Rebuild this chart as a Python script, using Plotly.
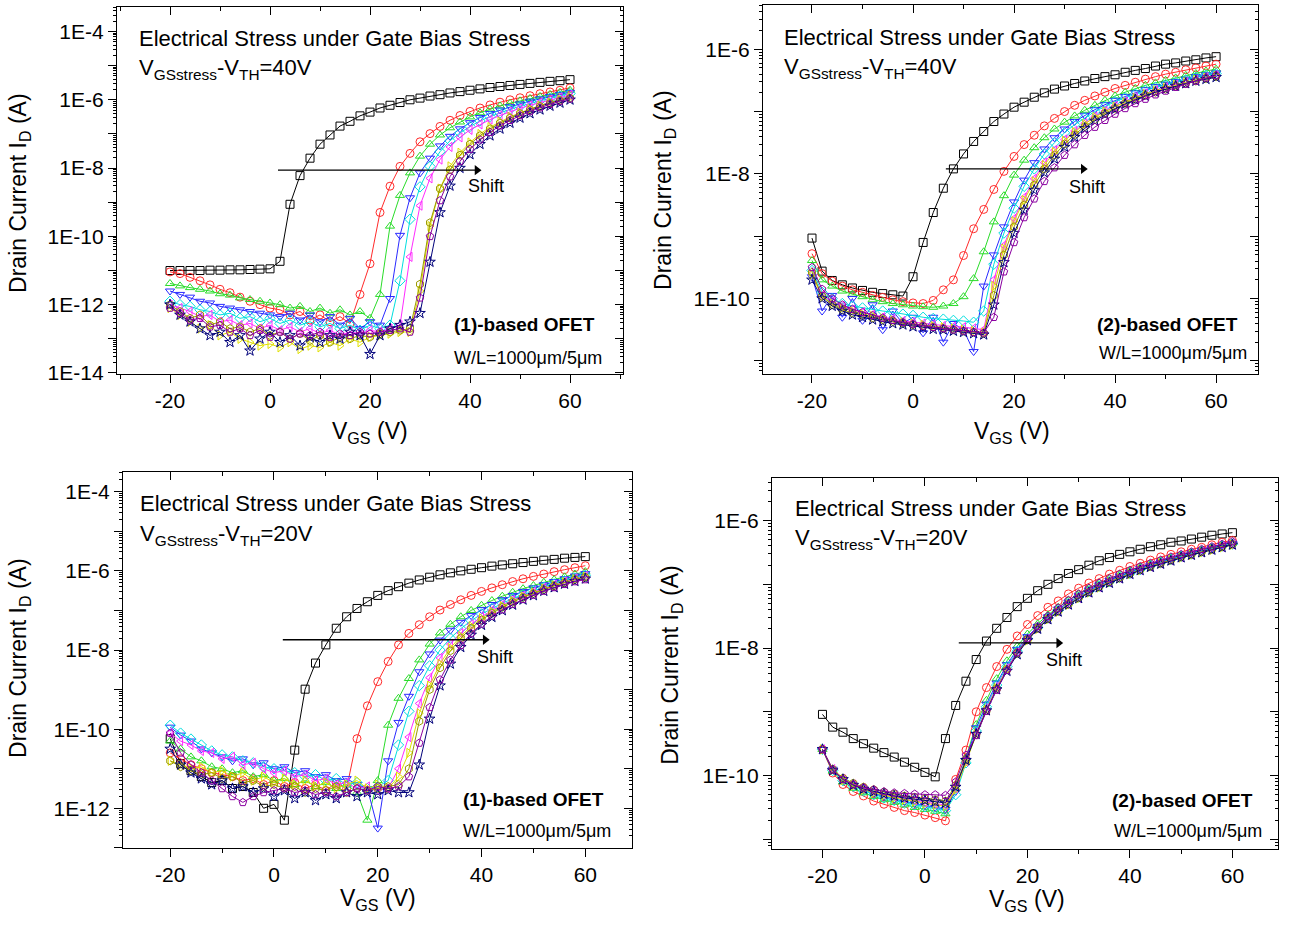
import plotly.graph_objects as go

# ---------------- data (log10 of drain current, A) ----------------
VGS = [-20, -18, -16, -14, -12, -10, -8, -6, -4, -2, 0,
       2, 4, 6, 8, 10, 12, 14, 16, 18, 20,
       22, 24, 26, 28, 30, 32, 34, 36, 38, 40,
       42, 44, 46, 48, 50, 52, 54, 56, 58, 60]

# Panel A : (1)-based OFET, VGSstress-VTH = 40 V
A_black = [-11.0, -11.0, -11.0, -11.0, -10.99, -10.99, -10.98, -10.98, -10.97, -10.96, -10.95,
           -10.73, -9.06, -8.22, -7.71, -7.30, -7.03, -6.77, -6.63, -6.47, -6.36,
           -6.24, -6.16, -6.08, -6.00, -5.95, -5.89, -5.85, -5.80, -5.76, -5.72,
           -5.68, -5.64, -5.61, -5.58, -5.55, -5.52, -5.49, -5.46, -5.44, -5.41]
A_red = [-11.04, -11.09, -11.2, -11.3, -11.42, -11.55, -11.65, -11.78, -11.9, -12.0, -12.1,
         -12.15, -12.3, -12.2, -12.45, -12.3, -12.5, -12.35, -12.55, -11.7, -10.8,
         -9.3, -8.53, -7.95, -7.57, -7.23, -6.99, -6.78, -6.6, -6.46, -6.34,
         -6.24, -6.15, -6.07, -6.0, -5.94, -5.88, -5.82, -5.77, -5.72, -5.65]
A_green = [-11.38, -11.45, -11.5, -11.55, -11.6, -11.68, -11.72, -11.8, -11.85, -11.9, -11.95,
           -12.0, -12.1, -12.05, -12.2, -12.1, -12.25, -12.15, -12.3, -12.2, -12.4,
           -11.7, -9.7, -8.8, -8.14, -7.65, -7.3, -7.03, -6.82, -6.65, -6.5,
           -6.38, -6.27, -6.18, -6.1, -6.03, -5.96, -5.9, -5.84, -5.78, -5.72]
A_blue = [-11.6, -11.7, -11.78, -11.9, -11.95, -12.05, -12.1, -12.15, -12.2, -12.25, -12.3,
          -12.35, -12.25, -12.45, -12.3, -12.5, -12.35, -12.6, -12.4, -12.7, -12.5,
          -12.6, -11.82, -9.97, -8.87, -8.14, -7.71, -7.35, -7.07, -6.85, -6.67,
          -6.52, -6.4, -6.3, -6.2, -6.12, -6.04, -5.97, -5.9, -5.84, -5.78]
A_cyan = [-11.9, -12.0, -12.05, -12.15, -12.2, -12.3, -12.25, -12.4, -12.35, -12.5, -12.4,
          -12.55, -12.45, -12.6, -12.5, -12.65, -12.55, -12.7, -12.6, -12.75, -12.6,
          -12.7, -12.6, -11.3, -9.5, -8.55, -7.95, -7.52, -7.2, -6.97, -6.78,
          -6.62, -6.49, -6.38, -6.28, -6.19, -6.1, -6.03, -5.96, -5.89, -5.82]
A_magenta = [-12.0, -12.1, -12.2, -12.35, -12.3, -12.5, -12.45, -12.6, -12.55, -12.7, -12.6,
             -12.75, -12.65, -12.8, -12.7, -12.85, -12.75, -12.9, -12.8, -12.85, -12.75,
             -12.8, -12.7, -12.6, -10.6, -9.1, -8.3, -7.75, -7.38, -7.1, -6.88,
             -6.72, -6.58, -6.46, -6.35, -6.25, -6.16, -6.08, -6.0, -5.93, -5.86]
A_yellow = [-12.1, -12.3, -12.5, -12.7, -12.6, -12.9, -12.8, -13.0, -13.1, -13.2, -13.15,
            -13.25, -13.1, -13.3, -13.2, -13.25, -13.1, -13.2, -13.0, -13.1, -12.95,
            -12.9, -12.85, -12.8, -12.8, -11.6, -9.7, -8.6, -7.95, -7.55, -7.25,
            -7.0, -6.8, -6.64, -6.5, -6.38, -6.27, -6.17, -6.08, -6.0, -5.92]
A_olive = [-12.0, -12.2, -12.4, -12.3, -12.6, -12.5, -12.7, -12.65, -12.8, -12.7, -12.9,
           -12.8, -13.0, -12.85, -13.05, -12.9, -13.1, -12.95, -13.0, -12.9, -12.95,
           -12.85, -12.8, -12.75, -12.7, -11.4, -9.6, -8.6, -8.05, -7.62, -7.3,
           -7.05, -6.85, -6.68, -6.53, -6.4, -6.29, -6.19, -6.1, -6.02, -5.95]
A_navy = [-12.0, -12.3, -12.5, -12.7, -12.9, -12.8, -13.1, -12.9, -13.35, -13.0, -12.8,
          -13.1, -12.9, -13.2, -12.95, -13.1, -12.9, -13.0, -12.8, -12.9, -13.45,
          -12.9, -12.7, -12.6, -12.5, -12.25, -10.75, -9.3, -8.52, -8.0, -7.6,
          -7.3, -7.05, -6.85, -6.68, -6.53, -6.4, -6.29, -6.18, -6.09, -6.0]
A_purple = [-12.1, -12.25, -12.45, -12.4, -12.65, -12.6, -12.8, -12.7, -12.9, -12.75, -12.95,
            -12.8, -13.0, -12.85, -12.9, -12.8, -12.95, -12.85, -12.9, -12.8, -12.85,
            -12.8, -12.75, -12.7, -12.8, -11.8, -10.0, -8.95, -8.25, -7.8, -7.45,
            -7.17, -6.95, -6.76, -6.6, -6.46, -6.34, -6.23, -6.13, -6.04, -5.97]

# Panel B : (2)-based OFET, VGSstress-VTH = 40 V
B_black = [-9.03, -9.56, -9.71, -9.78, -9.83, -9.87, -9.9, -9.92, -9.94, -9.96, -9.65,
           -9.1, -8.62, -8.23, -7.92, -7.68, -7.48, -7.32, -7.16, -7.04, -6.93,
           -6.85, -6.77, -6.7, -6.64, -6.59, -6.55, -6.51, -6.47, -6.44, -6.41,
           -6.37, -6.34, -6.31, -6.27, -6.24, -6.22, -6.19, -6.17, -6.14, -6.12]
B_red = [-9.28, -9.6, -9.72, -9.8, -9.86, -9.9, -9.95, -9.98, -10.02, -10.05, -10.07,
         -10.08, -10.03, -9.86, -9.7, -9.31, -8.88, -8.57, -8.25, -7.96, -7.72,
         -7.53, -7.38, -7.23, -7.11, -7.0, -6.9, -6.82, -6.75, -6.69, -6.63,
         -6.58, -6.53, -6.48, -6.44, -6.4, -6.37, -6.33, -6.3, -6.27, -6.24]
B_green = [-9.39, -9.7, -9.8, -9.88, -9.93, -9.97, -10.02, -10.05, -10.08, -10.1, -10.12,
           -10.13, -10.14, -10.12, -10.08, -9.97, -9.68, -9.25, -8.77, -8.35, -8.02,
           -7.78, -7.58, -7.42, -7.28, -7.17, -7.07, -6.98, -6.9, -6.82, -6.75,
           -6.69, -6.63, -6.58, -6.54, -6.5, -6.46, -6.42, -6.39, -6.35, -6.32]
B_blue = [-9.65, -10.2, -9.95, -10.3, -10.0, -10.35, -10.1, -10.5, -10.2, -10.4, -10.3,
          -10.55, -10.3, -10.7, -10.4, -10.5, -10.85, -9.8, -9.3, -8.85, -8.45,
          -8.1, -7.82, -7.6, -7.42, -7.28, -7.16, -7.06, -6.97, -6.89, -6.82,
          -6.76, -6.7, -6.65, -6.6, -6.56, -6.52, -6.48, -6.44, -6.41, -6.38]
B_cyan = [-9.55, -9.9, -10.0, -10.08, -10.12, -10.15, -10.18, -10.2, -10.22, -10.25, -10.27,
          -10.3, -10.32, -10.33, -10.35, -10.36, -10.38, -10.2, -9.45, -8.95, -8.55,
          -8.2, -7.92, -7.68, -7.5, -7.34, -7.21, -7.1, -7.0, -6.92, -6.84,
          -6.78, -6.72, -6.66, -6.61, -6.57, -6.53, -6.49, -6.45, -6.42, -6.39]
B_magenta = [-9.6, -9.95, -10.05, -10.12, -10.18, -10.22, -10.26, -10.3, -10.33, -10.36, -10.38,
             -10.4, -10.42, -10.44, -10.45, -10.46, -10.48, -10.5, -9.7, -9.15, -8.72,
             -8.38, -8.08, -7.82, -7.62, -7.45, -7.31, -7.19, -7.08, -6.99, -6.91,
             -6.84, -6.77, -6.71, -6.66, -6.61, -6.57, -6.53, -6.49, -6.45, -6.42]
B_yellow = [-9.62, -9.98, -10.08, -10.15, -10.2, -10.25, -10.28, -10.32, -10.35, -10.38, -10.4,
            -10.42, -10.44, -10.46, -10.48, -10.5, -10.52, -10.55, -9.8, -9.2, -8.76,
            -8.42, -8.12, -7.86, -7.65, -7.47, -7.33, -7.2, -7.09, -7.0, -6.92,
            -6.85, -6.78, -6.72, -6.67, -6.62, -6.57, -6.53, -6.49, -6.46, -6.43]
B_olive = [-9.58, -9.96, -10.1, -10.18, -10.23, -10.27, -10.31, -10.34, -10.37, -10.4, -10.42,
           -10.44, -10.46, -10.48, -10.5, -10.52, -10.54, -10.56, -9.95, -9.3, -8.85,
           -8.5, -8.18, -7.92, -7.7, -7.52, -7.37, -7.24, -7.13, -7.03, -6.95,
           -6.87, -6.8, -6.74, -6.69, -6.64, -6.59, -6.55, -6.51, -6.47, -6.44]
B_navy = [-9.7, -10.0, -10.12, -10.2, -10.26, -10.3, -10.34, -10.37, -10.4, -10.42, -10.45,
          -10.47, -10.49, -10.5, -10.52, -10.54, -10.56, -10.58, -10.1, -9.42, -8.95,
          -8.58, -8.26, -7.98, -7.76, -7.57, -7.41, -7.27, -7.15, -7.05, -6.96,
          -6.88, -6.81, -6.75, -6.69, -6.64, -6.59, -6.55, -6.51, -6.48, -6.45]
B_purple = [-9.5, -9.85, -10.0, -10.1, -10.17, -10.22, -10.27, -10.31, -10.35, -10.38, -10.41,
            -10.44, -10.46, -10.48, -10.5, -10.52, -10.54, -10.55, -10.3, -9.57, -9.1,
            -8.7, -8.4, -8.12, -7.9, -7.7, -7.53, -7.38, -7.25, -7.14, -7.04,
            -6.95, -6.87, -6.8, -6.73, -6.67, -6.61, -6.56, -6.51, -6.46, -6.42]

# Panel C : (1)-based OFET, VGSstress-VTH = 20 V
C_black = [-10.24, -10.87, -11.05, -11.2, -11.35, -11.3, -11.5, -11.45, -11.6, -12.0, -11.9,
           -12.3, -10.53, -8.99, -8.33, -7.87, -7.45, -7.16, -6.95, -6.78, -6.62,
           -6.5, -6.4, -6.31, -6.23, -6.16, -6.1, -6.05, -6.0, -5.96, -5.92,
           -5.88, -5.85, -5.82, -5.79, -5.76, -5.73, -5.71, -5.68, -5.66, -5.64]
C_red = [-10.6, -10.75, -10.9, -11.0, -11.1, -11.15, -11.2, -11.3, -11.25, -11.4, -11.3,
         -11.45, -11.35, -11.5, -11.4, -11.55, -11.35, -11.5, -10.24, -9.41, -8.8,
         -8.29, -7.87, -7.58, -7.36, -7.16, -6.99, -6.85, -6.73, -6.62, -6.52,
         -6.43, -6.35, -6.27, -6.2, -6.14, -6.08, -6.02, -5.97, -5.92, -5.87]
C_green = [-10.3, -10.5, -10.7, -10.8, -10.95, -11.0, -11.1, -11.05, -11.2, -11.15, -11.3,
           -11.25, -11.4, -11.3, -11.45, -11.35, -11.5, -11.4, -11.6, -12.3, -11.3,
           -9.9, -9.22, -8.72, -8.25, -7.85, -7.57, -7.35, -7.16, -7.0, -6.87,
           -6.75, -6.64, -6.54, -6.45, -6.37, -6.29, -6.22, -6.15, -6.08, -6.02]
C_blue = [-9.95, -10.15, -10.3, -10.5, -10.6, -10.7, -10.8, -10.75, -10.9, -10.85, -11.0,
          -10.95, -11.1, -11.05, -11.2, -11.15, -11.3, -11.25, -11.4, -11.5, -12.5,
          -10.8, -9.83, -9.17, -8.55, -8.1, -7.75, -7.5, -7.3, -7.13, -6.98,
          -6.85, -6.73, -6.62, -6.52, -6.43, -6.35, -6.27, -6.2, -6.13, -6.07]
C_cyan = [-9.9, -10.1, -10.25, -10.4, -10.55, -10.65, -10.7, -10.8, -10.85, -10.95, -11.0,
          -11.05, -11.1, -11.2, -11.15, -11.3, -11.25, -11.4, -11.35, -11.5, -11.45,
          -11.3, -10.4, -9.55, -8.9, -8.4, -8.0, -7.7, -7.46, -7.26, -7.09,
          -6.95, -6.82, -6.7, -6.6, -6.5, -6.41, -6.33, -6.25, -6.18, -6.11]
C_magenta = [-10.1, -10.3, -10.4, -10.55, -10.6, -10.75, -10.7, -10.9, -10.85, -11.0, -11.1,
             -11.05, -11.2, -11.15, -11.3, -11.25, -11.4, -11.35, -11.5, -11.45, -11.55,
             -11.5, -11.0, -10.2, -9.35, -8.7, -8.2, -7.85, -7.57, -7.35, -7.16,
             -7.0, -6.86, -6.74, -6.63, -6.53, -6.43, -6.35, -6.27, -6.19, -6.13]
C_yellow = [-10.8, -10.9, -11.0, -10.95, -11.1, -11.05, -11.2, -11.1, -11.3, -11.2, -11.35,
            -11.25, -11.4, -11.3, -11.45, -11.35, -11.5, -11.4, -11.3, -11.5, -11.4,
            -11.5, -11.2, -10.6, -9.6, -8.9, -8.35, -7.95, -7.65, -7.4, -7.2,
            -7.03, -6.89, -6.76, -6.65, -6.55, -6.45, -6.37, -6.29, -6.21, -6.15]
C_olive = [-10.8, -10.95, -11.05, -11.15, -11.1, -11.25, -11.2, -11.35, -11.3, -11.45, -11.4,
           -11.5, -11.45, -11.6, -11.5, -11.55, -11.45, -11.6, -11.5, -11.55, -11.5,
           -11.45, -11.4, -11.0, -9.8, -9.0, -8.45, -8.02, -7.7, -7.45, -7.24,
           -7.07, -6.92, -6.79, -6.67, -6.57, -6.47, -6.38, -6.3, -6.22, -6.16]
C_navy = [-10.5, -10.9, -11.1, -11.25, -11.4, -11.3, -11.5, -11.45, -11.6, -11.5, -11.7,
          -11.55, -11.75, -11.6, -11.8, -11.65, -11.75, -11.6, -11.7, -11.6, -11.65,
          -11.55, -11.6, -11.6, -10.9, -9.74, -8.9, -8.35, -7.93, -7.62, -7.37,
          -7.17, -7.0, -6.86, -6.73, -6.62, -6.51, -6.42, -6.33, -6.26, -6.2]
C_purple = [-10.1, -10.6, -10.9, -11.1, -11.3, -11.5, -11.7, -11.85, -11.7, -11.6, -11.55,
            -11.5, -11.6, -11.55, -11.65, -11.6, -11.7, -11.6, -11.5, -11.55, -11.45,
            -11.5, -11.45, -11.2, -10.35, -9.45, -8.75, -8.25, -7.88, -7.58, -7.34,
            -7.14, -6.98, -6.84, -6.72, -6.61, -6.51, -6.42, -6.34, -6.27, -6.22]

# Panel D : (2)-based OFET, VGSstress-VTH = 20 V
D_black = [-9.04, -9.24, -9.32, -9.42, -9.5, -9.57, -9.64, -9.71, -9.79, -9.87, -9.95,
           -10.02, -9.42, -8.9, -8.52, -8.18, -7.89, -7.69, -7.52, -7.35, -7.22,
           -7.1, -7.0, -6.91, -6.83, -6.77, -6.7, -6.63, -6.58, -6.53, -6.49,
           -6.45, -6.41, -6.38, -6.34, -6.32, -6.29, -6.26, -6.23, -6.21, -6.19]
D_red = [-9.59, -9.96, -10.14, -10.25, -10.32, -10.4, -10.45, -10.5, -10.55, -10.58, -10.62,
         -10.66, -10.71, -10.06, -9.6, -9.0, -8.62, -8.29, -8.02, -7.81, -7.63,
         -7.49, -7.36, -7.26, -7.15, -7.06, -6.98, -6.91, -6.84, -6.78, -6.72,
         -6.67, -6.62, -6.57, -6.53, -6.49, -6.45, -6.42, -6.38, -6.34, -6.31]
D_green = [-9.59, -9.93, -10.1, -10.2, -10.27, -10.33, -10.38, -10.42, -10.46, -10.5, -10.53,
           -10.56, -10.6, -10.2, -9.72, -9.2, -8.82, -8.48, -8.2, -7.97, -7.78,
           -7.62, -7.48, -7.36, -7.25, -7.15, -7.06, -6.98, -6.91, -6.85, -6.79,
           -6.73, -6.68, -6.63, -6.58, -6.54, -6.5, -6.46, -6.42, -6.38, -6.35]
D_blue = [-9.59, -9.9, -10.06, -10.15, -10.22, -10.28, -10.33, -10.37, -10.41, -10.44, -10.47,
          -10.5, -10.53, -10.25, -9.76, -9.25, -8.88, -8.55, -8.26, -8.02, -7.82,
          -7.66, -7.51, -7.39, -7.28, -7.18, -7.09, -7.01, -6.94, -6.87, -6.81,
          -6.75, -6.7, -6.65, -6.6, -6.55, -6.51, -6.47, -6.43, -6.39, -6.36]
D_cyan = [-9.59, -9.92, -10.08, -10.17, -10.24, -10.3, -10.35, -10.39, -10.43, -10.46, -10.49,
          -10.52, -10.55, -10.3, -9.8, -9.3, -8.92, -8.58, -8.29, -8.05, -7.85,
          -7.68, -7.53, -7.41, -7.3, -7.2, -7.11, -7.03, -6.96, -6.89, -6.83,
          -6.77, -6.71, -6.66, -6.61, -6.56, -6.52, -6.48, -6.44, -6.4, -6.37]
D_magenta = [-9.59, -9.9, -10.05, -10.14, -10.2, -10.25, -10.29, -10.33, -10.36, -10.39, -10.42,
             -10.44, -10.46, -10.2, -9.78, -9.33, -8.95, -8.61, -8.32, -8.07, -7.86,
             -7.69, -7.54, -7.42, -7.31, -7.21, -7.12, -7.04, -6.96, -6.9, -6.83,
             -6.77, -6.72, -6.67, -6.62, -6.57, -6.53, -6.49, -6.45, -6.41, -6.37]
D_yellow = [-9.59, -9.91, -10.07, -10.16, -10.22, -10.27, -10.31, -10.35, -10.38, -10.41, -10.44,
            -10.46, -10.48, -10.22, -9.8, -9.35, -8.97, -8.63, -8.34, -8.09, -7.88,
            -7.7, -7.55, -7.43, -7.32, -7.22, -7.13, -7.05, -6.97, -6.9, -6.84,
            -6.78, -6.72, -6.67, -6.62, -6.58, -6.54, -6.5, -6.46, -6.42, -6.38]
D_olive = [-9.59, -9.9, -10.04, -10.12, -10.18, -10.22, -10.26, -10.29, -10.32, -10.34, -10.36,
           -10.38, -10.4, -10.15, -9.75, -9.36, -8.98, -8.64, -8.34, -8.08, -7.87,
           -7.69, -7.54, -7.42, -7.31, -7.21, -7.12, -7.04, -6.96, -6.9, -6.83,
           -6.77, -6.72, -6.67, -6.62, -6.57, -6.53, -6.49, -6.45, -6.41, -6.37]
D_navy = [-9.59, -9.92, -10.06, -10.15, -10.21, -10.25, -10.29, -10.32, -10.35, -10.37, -10.39,
          -10.41, -10.43, -10.18, -9.76, -9.35, -8.98, -8.65, -8.36, -8.1, -7.88,
          -7.7, -7.55, -7.43, -7.32, -7.22, -7.13, -7.05, -6.98, -6.91, -6.84,
          -6.78, -6.73, -6.68, -6.63, -6.58, -6.54, -6.5, -6.46, -6.42, -6.38]
D_purple = [-9.59, -9.91, -10.06, -10.14, -10.19, -10.22, -10.25, -10.27, -10.28, -10.29, -10.3,
            -10.3, -10.31, -10.1, -9.68, -9.37, -8.99, -8.66, -8.35, -8.07, -7.85,
            -7.66, -7.5, -7.37, -7.25, -7.15, -7.06, -6.98, -6.91, -6.84, -6.78,
            -6.72, -6.67, -6.62, -6.57, -6.53, -6.49, -6.45, -6.41, -6.37, -6.33]

X_TICKS = [-20, 0, 20, 40, 60]
X_MINOR = [-30, -10, 10, 30, 50, 70]
A_DECADES = [-14, -13, -12, -11, -10, -9, -8, -7, -6, -5, -4]
B_DECADES = [-11, -10, -9, -8, -7, -6]
C_DECADES = [-13, -12, -11, -10, -9, -8, -7, -6, -5, -4]
D_DECADES = [-11, -10, -9, -8, -7, -6]
A_LABELLED = [-14, -12, -10, -8, -6, -4]
B_LABELLED = [-10, -8, -6]
C_LABELLED = [-12, -10, -8, -6, -4]
D_LABELLED = [-10, -8, -6]

# ---------------- styling ----------------
COLORS = ["#000000", "#ff2a2a", "#2adc2a", "#2a2aff", "#00dede",
          "#ff2aff", "#e0e000", "#9a9a00", "#00007a", "#8a00a0"]
SYMBOLS = ["square-open", "circle-open", "triangle-up-open", "triangle-down-open",
           "diamond-open", "triangle-left-open", "triangle-right-open",
           "hexagon-open", "star-open", "pentagon-open"]
FONT = "Liberation Sans, Arial, sans-serif"
W, H = 1290, 940

panels = [
    dict(series=[A_black, A_red, A_green, A_blue, A_cyan, A_magenta, A_yellow, A_olive, A_navy, A_purple],
         px=(117, 623), py=(7, 378), xr=(-30.6, 70.6), yr=(-14.03, -3.28),
         dec=A_DECADES, lab=A_LABELLED, stress="40V", mat="(1)",
         arrow=(1.6, 42.4, -8.06),
         ytitle=(20, 195), xtitle=(370, 437),
         t1=(137, 39), t2=(137, 70), shift=(466, 188), ofet=(452, 328), wl=(452, 362)),
    dict(series=[B_black, B_red, B_green, B_blue, B_cyan, B_magenta, B_yellow, B_olive, B_navy, B_purple],
         px=(763, 1258), py=(5, 378), xr=(-29.7, 68.3), yr=(-11.21, -5.29),
         dec=B_DECADES, lab=B_LABELLED, stress="40V", mat="(2)",
         arrow=(6.5, 34.7, -7.92),
         ytitle=(665, 192), xtitle=(1012, 437),
         t1=(782, 38), t2=(782, 69), shift=(1067, 189), ofet=(1095, 328), wl=(1097, 357)),
    dict(series=[C_black, C_red, C_green, C_blue, C_cyan, C_magenta, C_yellow, C_olive, C_navy, C_purple],
         px=(123, 632), py=(477, 857), xr=(-29.1, 69.0), yr=(-13.0, -3.5),
         dec=C_DECADES, lab=C_LABELLED, stress="20V", mat="(1)",
         arrow=(1.7, 41.7, -7.74),
         ytitle=(20, 665), xtitle=(378, 909),
         t1=(138, 509), t2=(138, 541), shift=(475, 664), ofet=(461, 808), wl=(461, 840)),
    dict(series=[D_black, D_red, D_green, D_blue, D_cyan, D_magenta, D_yellow, D_olive, D_navy, D_purple],
         px=(772, 1278), py=(483, 858), xr=(-29.85, 68.9), yr=(-11.15, -5.33),
         dec=D_DECADES, lab=D_LABELLED, stress="20V", mat="(2)",
         arrow=(6.6, 27.1, -7.92),
         ytitle=(672, 672), xtitle=(1027, 910),
         t1=(793, 514), t2=(793, 545), shift=(1044, 667), ofet=(1110, 809), wl=(1112, 840)),
]

fig = go.Figure()
layout = dict(width=W, height=H, margin=dict(l=0, r=0, t=0, b=0), autosize=False,
              paper_bgcolor="white", plot_bgcolor="white", showlegend=False,
              font=dict(family=FONT, color="black"))
annotations = []


def fx(x):
    return x / W


def fy(y):
    return 1 - y / H


for i, p in enumerate(panels, start=1):
    xa = "x" if i == 1 else f"x{i}"
    ya = "y" if i == 1 else f"y{i}"
    for s, col, sym in zip(p["series"], COLORS, SYMBOLS):
        fig.add_trace(go.Scatter(
            x=VGS, y=[10 ** v for v in s], xaxis=xa, yaxis=ya, mode="lines+markers",
            line=dict(color=col, width=1),
            marker=dict(symbol=sym, size=8, color=col, line=dict(color=col, width=1)),
            showlegend=False, hoverinfo="skip"))

    # shift arrow: shaft + head drawn on the panel's own axes
    tail, head, lv = p["arrow"]
    fig.add_trace(go.Scatter(x=[tail, head - 1.2], y=[10 ** lv, 10 ** lv], xaxis=xa, yaxis=ya,
                             mode="lines", line=dict(color="black", width=1.3),
                             showlegend=False, hoverinfo="skip"))
    fig.add_trace(go.Scatter(x=[head - 1.0], y=[10 ** lv], xaxis=xa, yaxis=ya, mode="markers",
                             marker=dict(symbol="triangle-right", size=9, color="black"),
                             showlegend=False, hoverinfo="skip"))

    # dummy traces for the mirrored / unlabeled tick axes
    fig.add_trace(go.Scatter(x=[None], y=[None], xaxis=f"x{i + 4}", yaxis=ya, showlegend=False))
    fig.add_trace(go.Scatter(x=[None], y=[None], xaxis=xa, yaxis=f"y{i + 4}", showlegend=False))
    fig.add_trace(go.Scatter(x=[None], y=[None], xaxis=xa, yaxis=f"y{i + 8}", showlegend=False))

    ytv_all = [10.0 ** d for d in p["dec"]]
    ytv_lab = [10.0 ** d for d in p["lab"]]
    ytt_lab = [f"1E{d}" for d in p["lab"]]
    ymin = [k * 10.0 ** d for d in range(p["dec"][0] - 1, p["dec"][-1] + 1) for k in range(2, 10)]
    xdom = [fx(p["px"][0]), fx(p["px"][1])]
    ydom = [fy(p["py"][1]), fy(p["py"][0])]

    xk = "xaxis" if i == 1 else f"xaxis{i}"
    yk = "yaxis" if i == 1 else f"yaxis{i}"
    layout[xk] = dict(domain=xdom, range=list(p["xr"]), anchor=ya,
                      tickmode="array", tickvals=X_TICKS, ticktext=[str(v) for v in X_TICKS],
                      ticks="outside", ticklen=8, tickwidth=1.2, tickcolor="black",
                      showline=True, linecolor="black", linewidth=1.3, mirror=True,
                      showgrid=False, zeroline=False,
                      tickfont=dict(size=21, family=FONT, color="black"),
                      minor=dict(tickmode="array", tickvals=X_MINOR, ticks="outside",
                                 ticklen=4, tickcolor="black", tickwidth=1, showgrid=False))
    layout[yk] = dict(domain=ydom, type="log", range=list(p["yr"]), anchor=xa,
                      tickmode="array", tickvals=ytv_lab, ticktext=ytt_lab,
                      ticks="outside", ticklen=8, tickwidth=1.2, tickcolor="black",
                      showline=True, linecolor="black", linewidth=1.3, mirror=True,
                      showgrid=False, zeroline=False,
                      tickfont=dict(size=21, family=FONT, color="black"))
    # left overlay: every decade + minor ticks, no labels
    layout[f"yaxis{i + 8}"] = dict(overlaying=ya, side="left", anchor=xa, type="log",
                                   range=list(p["yr"]), tickmode="array", tickvals=ytv_all,
                                   ticks="outside", ticklen=8, tickwidth=1.2, tickcolor="black",
                                   showticklabels=False, showline=False, showgrid=False,
                                   zeroline=False,
                                   minor=dict(tickmode="array", tickvals=ymin, ticks="outside",
                                              ticklen=3, tickcolor="black", tickwidth=0.8,
                                              showgrid=False))
    layout[f"xaxis{i + 4}"] = dict(overlaying=xa, side="top", anchor=ya, range=list(p["xr"]),
                                   tickmode="array", tickvals=X_TICKS, ticks="inside", ticklen=8,
                                   tickwidth=1.2, tickcolor="black", showticklabels=False,
                                   showline=False, showgrid=False, zeroline=False,
                                   minor=dict(tickmode="array", tickvals=X_MINOR, ticks="inside",
                                              ticklen=4, tickcolor="black", showgrid=False))
    layout[f"yaxis{i + 4}"] = dict(overlaying=ya, side="right", anchor=xa, type="log",
                                   range=list(p["yr"]), tickmode="array", tickvals=ytv_all,
                                   ticks="inside", ticklen=8, tickwidth=1.2, tickcolor="black",
                                   showticklabels=False, showline=False, showgrid=False,
                                   zeroline=False,
                                   minor=dict(tickmode="array", tickvals=ymin, ticks="inside",
                                              ticklen=3, tickcolor="black", tickwidth=0.8,
                                              showgrid=False))

    def txt(pos, text, size, bold=False, anchor="left", angle=0):
        annotations.append(dict(x=fx(pos[0]), y=fy(pos[1]), xref="paper", yref="paper",
                                text=f"<b>{text}</b>" if bold else text, showarrow=False,
                                xanchor=anchor, yanchor="middle", textangle=angle,
                                font=dict(size=size, family=FONT, color="black")))

    txt(p["t1"], "Electrical Stress under Gate Bias Stress", 22)
    txt(p["t2"], f"V<sub>GSstress</sub>-V<sub>TH</sub>={p['stress']}", 22)
    txt(p["shift"], "Shift", 18)
    txt(p["ofet"], f"{p['mat']}-based OFET", 19, bold=True)
    txt(p["wl"], "W/L=1000μm/5μm", 18)
    txt(p["ytitle"], "Drain Current I<sub>D</sub> (A)", 23, anchor="center", angle=-90)
    txt(p["xtitle"], "V<sub>GS</sub> (V)", 23, anchor="center")

layout["annotations"] = annotations
fig.update_layout(**layout)
fig.write_html("out.html", config={"displayModeBar": False},
               post_script="document.body.style.margin='0px';document.body.style.overflow='hidden';")
